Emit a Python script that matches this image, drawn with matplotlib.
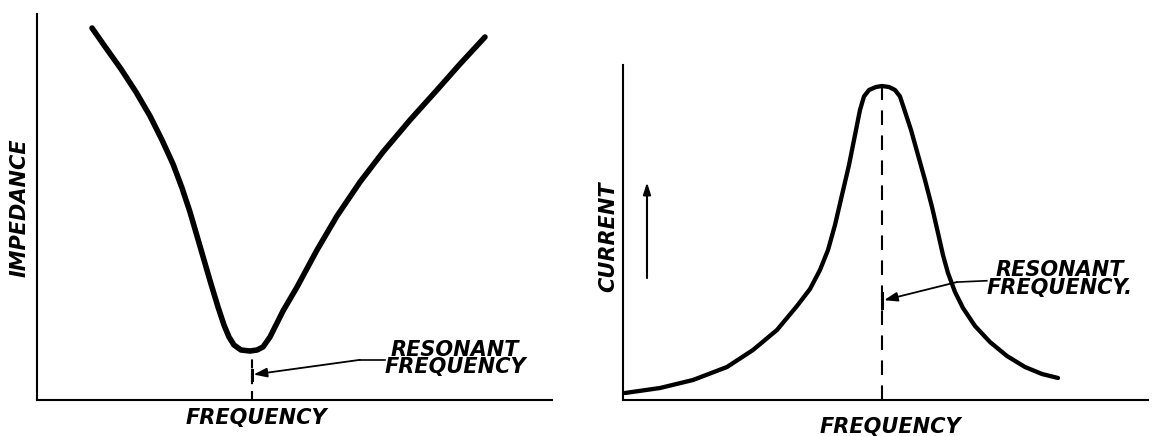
import matplotlib
matplotlib.use("Agg")
import matplotlib.pyplot as plt

# ---- data (arbitrary units, 0..100 on both axes) ----
imp_freq = [10.68, 13.40, 16.31, 19.22, 21.94, 24.27, 26.41, 28.16, 29.71, 31.07,
            32.43, 33.79, 35.15, 36.31, 37.28, 38.25, 39.61, 41.36, 42.72, 43.88,
            45.24, 47.77, 50.49, 54.37, 58.25, 62.72, 67.18, 72.43, 77.67, 82.14, 86.99]
imp_vals = [96.37, 91.19, 85.75, 79.79, 73.58, 67.36, 61.14, 54.92, 48.70, 42.49,
            36.27, 30.05, 24.09, 19.43, 16.32, 14.25, 12.95, 12.69, 12.95, 13.73,
            16.32, 23.06, 29.27, 38.86, 47.67, 56.48, 64.25, 72.54, 80.31, 87.05, 94.04]
imp_res = 41.75

cur_freq = [0.38, 7.05, 13.33, 19.81, 24.76, 29.33, 33.14, 35.62, 37.52, 39.05,
            40.38, 41.71, 43.05, 44.19, 45.14, 45.90, 46.86, 48.19, 49.33, 50.67,
            51.81, 52.76, 53.52, 54.86, 56.19, 57.52, 58.86, 60.00, 60.95, 61.90,
            63.24, 64.76, 67.05, 69.90, 73.14, 76.57, 79.81, 82.86]
cur_vals = [2.09, 3.58, 5.97, 9.85, 14.93, 20.90, 28.06, 33.13, 38.81, 44.78,
            52.24, 61.19, 70.15, 79.10, 86.57, 90.60, 92.54, 93.43, 93.73, 93.43,
            92.54, 90.60, 87.01, 80.60, 73.13, 65.67, 57.61, 49.85, 43.28, 37.91,
            32.24, 27.46, 22.09, 17.31, 13.13, 9.85, 7.76, 6.57]
cur_res = 49.33

left_xlabel = "FREQUENCY"
left_ylabel = "IMPEDANCE"
right_xlabel = "FREQUENCY"
right_ylabel = "CURRENT"
note_left = "RESONANT\nFREQUENCY"
note_right = "RESONANT\nFREQUENCY."

W, H = 1157, 436
fig = plt.figure(figsize=(W / 100, H / 100), dpi=100)
fig.patch.set_facecolor("white")

font = dict(family="DejaVu Sans", weight="bold", style="oblique", color="black")
FS = 15


def make_axes(x0, x1, ytop, ybot):
    ax = fig.add_axes([x0 / W, 1 - ybot / H, (x1 - x0) / W, (ybot - ytop) / H])
    ax.set_xlim(0, 100)
    ax.set_ylim(0, 100)
    for s in ("top", "right"):
        ax.spines[s].set_visible(False)
    for s in ("left", "bottom"):
        ax.spines[s].set_linewidth(1.5)
        ax.spines[s].set_color("black")
    ax.set_xticks([])
    ax.set_yticks([])
    ax.patch.set_alpha(0)
    return ax


arrow_kw = dict(arrowstyle="-|>,head_length=0.8,head_width=0.28",
                color="black", lw=1.3, shrinkA=0, shrinkB=0)

# ---- left panel: impedance ----
axL = make_axes(37, 552, 14, 400)
axL.plot(imp_freq, imp_vals, color="black", lw=4.0, solid_capstyle="round",
         solid_joinstyle="round")
axL.plot([imp_res, imp_res], [0, min(imp_vals) - 1.5], color="black", lw=1.5,
         dashes=(4.3, 3.3))
axL.plot([imp_res, imp_res], [5.2, 7.8], color="black", lw=2.2)
axL.plot([62.7, 67.6], [10.4, 10.4], color="black", lw=1.2)
axL.annotate("", xy=(imp_res + 0.3, 6.6), xytext=(62.7, 10.4), arrowprops=arrow_kw)
axL.text(81.2, 10.8, note_left, fontsize=FS, ha="center", va="center",
         multialignment="center", linespacing=0.85, **font)
axL.text(0.425, -0.047, left_xlabel, transform=axL.transAxes, fontsize=FS,
         ha="center", va="center", **font)
axL.text(-0.033, 0.497, left_ylabel, transform=axL.transAxes, fontsize=FS,
         ha="center", va="center", rotation=90, **font)

# ---- right panel: current ----
axR = make_axes(623, 1148, 65, 400)
axR.plot(cur_freq, cur_vals, color="black", lw=3.1, solid_capstyle="round",
         solid_joinstyle="round")
axR.plot([cur_res, cur_res], [0, max(cur_vals)], color="black", lw=1.5,
         dashes=(7, 5))
axR.plot([cur_res, cur_res], [27.5, 32.0], color="black", lw=2.2)
axR.plot([63.6, 69.3], [35.2, 35.6], color="black", lw=1.2)
axR.annotate("", xy=(cur_res + 0.4, 29.8), xytext=(63.6, 35.2), arrowprops=arrow_kw)
axR.annotate("", xy=(4.57, 65.0), xytext=(4.57, 36.4),
             arrowprops=dict(arrowstyle="-|>,head_length=0.7,head_width=0.22",
                             color="black", lw=1.5, shrinkA=0, shrinkB=0))
axR.text(83.2, 36.1, note_right, fontsize=FS, ha="center", va="center",
         multialignment="center", linespacing=0.85, **font)
axR.text(0.51, -0.081, right_xlabel, transform=axR.transAxes, fontsize=FS,
         ha="center", va="center", **font)
axR.text(-0.029, 0.487, right_ylabel, transform=axR.transAxes, fontsize=FS,
         ha="center", va="center", rotation=90, **font)

fig.savefig("out.png", dpi=100, facecolor="white")
